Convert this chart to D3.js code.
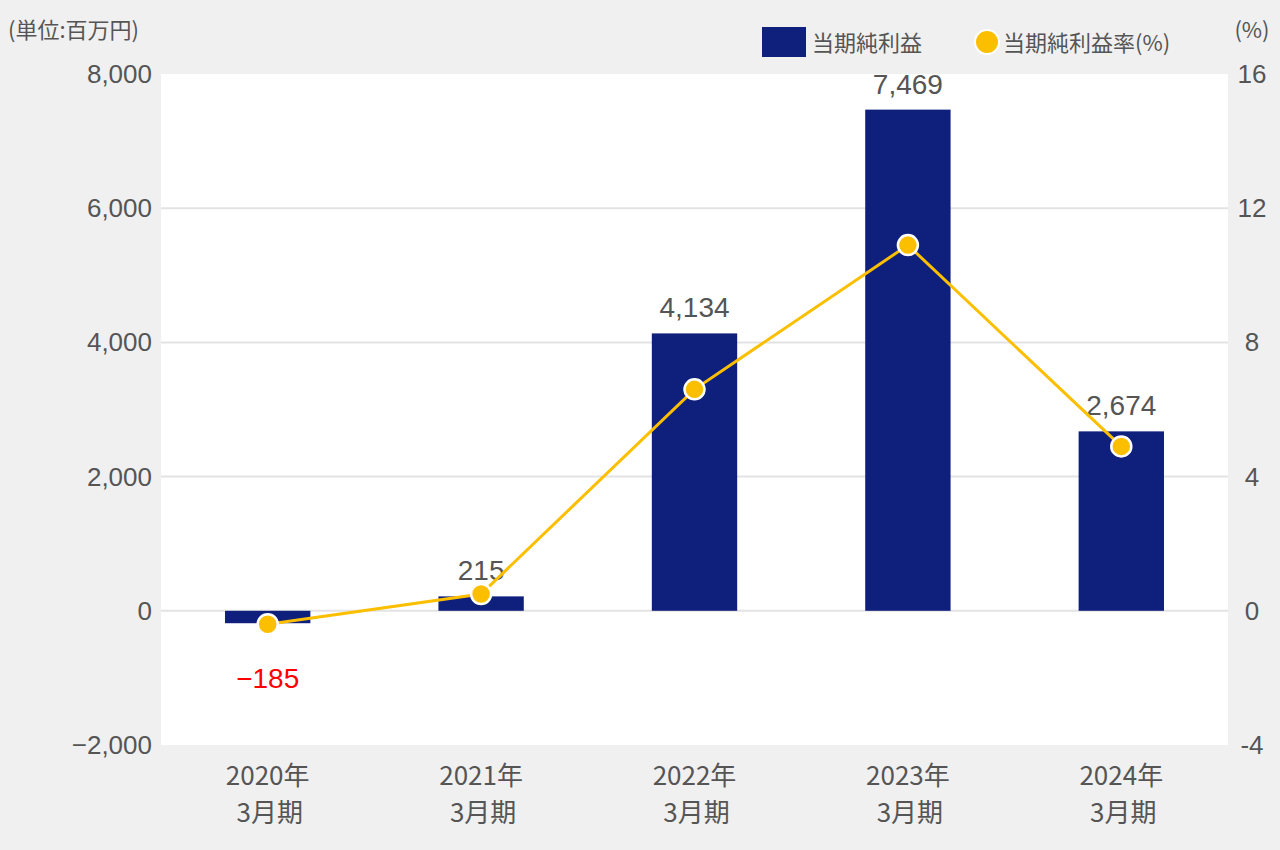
<!DOCTYPE html><html><head><meta charset="utf-8"><script src="https://cdn.jsdelivr.net/npm/d3@7"></script>
<style>body{margin:0;background:#f0f0f0}svg{font-family:Arial,"Liberation Sans","Noto Sans CJK JP",sans-serif}</style></head><body><svg id="c" width="1280" height="850"></svg><script>
const categories=["2020年|3月期","2021年|3月期","2022年|3月期","2023年|3月期","2024年|3月期"];
const netIncome=[-185,215,4134,7469,2674];
const netMargin=[-0.4,0.5,6.6,10.9,4.9];
const leftTicks=[-2000,0,2000,4000,6000,8000];
const rightTicks=[-4,0,4,8,12,16];
const svg=d3.select("#c");
const L=161,R=1228,T=74,B=745;
svg.append("rect").attr("x",L).attr("y",T).attr("width",R-L).attr("height",B-T).attr("fill","#fff");
const x=d3.scaleBand().domain(categories).range([L,R]).paddingInner(0.6).paddingOuter(0.3);
const y=d3.scaleLinear().domain([-2000,8000]).range([B,T]);
const y2=d3.scaleLinear().domain([-4,16]).range([B,T]);
const jp='"Noto Sans CJK JP",sans-serif';
svg.selectAll(".g").data(leftTicks.filter(d=>d>-2000&&d<8000)).join("line").attr("x1",L).attr("x2",R).attr("y1",d=>y(d)).attr("y2",d=>y(d)).attr("stroke","#e3e3e3").attr("stroke-width",2);
svg.selectAll(".lt").data(leftTicks).join("text").attr("x",152).attr("y",d=>y(d)+9).attr("text-anchor","end").attr("font-size",26).attr("fill","#555").text(d3.format(","));
svg.selectAll(".rt").data(rightTicks).join("text").attr("x",1252).attr("y",d=>y2(d)+9).attr("text-anchor","middle").attr("font-size",26).attr("fill","#555").text(d=>d);
svg.selectAll(".bar").data(netIncome).join("rect").attr("x",(d,i)=>x(categories[i])).attr("width",x.bandwidth()).attr("y",d=>y(Math.max(0,d))).attr("height",d=>Math.abs(y(d)-y(0))).attr("fill","#0f1f7c");
const cx=i=>x(categories[i])+x.bandwidth()/2;
svg.selectAll(".bl").data(netIncome).join("text").attr("x",(d,i)=>cx(i)).attr("y",d=>d<0?y(d)+65:y(d)-16).attr("text-anchor","middle").attr("font-size",28).attr("fill",d=>d<0?"#f00":"#555").text(d3.format(","));
svg.append("path").datum(netMargin).attr("d",d3.line().x((d,i)=>cx(i)).y(d=>y2(d))).attr("fill","none").attr("stroke","#fbbf00").attr("stroke-width",3);
svg.selectAll(".pt").data(netMargin).join("circle").attr("cx",(d,i)=>cx(i)).attr("cy",d=>y2(d)).attr("r",10).attr("fill","#fbbf00").attr("stroke","#fff").attr("stroke-width",2.5);
categories.forEach((c,i)=>{const p=c.split("|");const t=svg.append("text").attr("text-anchor","middle").attr("font-size",26).attr("fill","#555").attr("font-family",jp);
t.append("tspan").attr("x",cx(i)).attr("y",785).text(p[0]);t.append("tspan").attr("x",cx(i)+2).attr("y",822).text(p[1]);});
svg.append("text").attr("x",8).attr("y",38).attr("font-size",22).attr("fill","#555").attr("font-family",jp).text("(単位:百万円)");
svg.append("text").attr("x",1252).attr("y",38).attr("text-anchor","middle").attr("font-size",22).attr("fill","#555").attr("font-family",jp).text("(%)");
svg.append("rect").attr("x",762).attr("y",27).attr("width",44).attr("height",30).attr("fill","#0f1f7c");
svg.append("text").attr("x",812).attr("y",51).attr("font-size",22).attr("fill","#555").attr("font-family",jp).text("当期純利益");
svg.append("circle").attr("cx",987).attr("cy",42).attr("r",12).attr("fill","#fbbf00").attr("stroke","#fff").attr("stroke-width",2);
svg.append("text").attr("x",1003).attr("y",51).attr("font-size",22).attr("fill","#555").attr("font-family",jp).text("当期純利益率(%)");
</script></body></html>
